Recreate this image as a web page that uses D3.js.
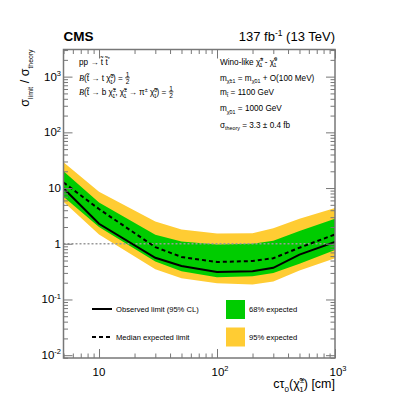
<!DOCTYPE html>
<html>
<head>
<meta charset="utf-8">
<script src="https://cdn.jsdelivr.net/npm/d3@7"></script>
<style>
body { margin: 0; background: #fff; }
text { font-family: "Liberation Sans", Arial, sans-serif; fill: #000; }
</style>
</head>
<body>
<div id="chart"></div>
<script>
// lifetime points (cm) and limits on sigma/sigma_theory
var ctau = [5, 10, 30, 50, 100, 200, 300, 500, 1000];
var observed = [9.9, 2.28, 0.56, 0.40, 0.31, 0.32, 0.37, 0.64, 1.08];
var expected = [12.6, 4.2, 0.87, 0.58, 0.47, 0.49, 0.55, 0.85, 1.47];
var exp68Up = [20, 5.5, 1.45, 1.1, 0.97, 1.0, 1.13, 1.7, 2.8];
var exp68Down = [7, 2.0, 0.48, 0.32, 0.25, 0.26, 0.30, 0.44, 0.77];
var exp95Up = [29, 8.6, 2.5, 1.8, 1.53, 1.55, 1.9, 2.8, 4.4];
var exp95Down = [5.7, 1.47, 0.35, 0.24, 0.195, 0.185, 0.21, 0.33, 0.55];

var xMajor = [10, 100, 1000];
var xTickLabels = [["10", ""], ["10", "2"], ["10", "3"]];
var yMajor = [0.01, 0.1, 1, 10, 100, 1000];
var yTickLabels = [["10", "-2"], ["10", "-1"], ["1", ""], ["10", ""], ["10", "2"], ["10", "3"]];

var width = 399, height = 399;
var frame = {left: 63.5, right: 335, top: 49.5, bottom: 358};
var axisColor = "#777";

var x = d3.scaleLog().domain([5, 1000]).range([frame.left, frame.right]);
var y = d3.scaleLog().domain([0.0089, 3070]).range([frame.bottom, frame.top]);

var svg = d3.select("#chart").append("svg")
    .attr("width", width)
    .attr("height", height);

svg.append("defs").append("clipPath").attr("id", "plotClip")
    .append("rect")
    .attr("x", frame.left).attr("y", frame.top)
    .attr("width", frame.right - frame.left)
    .attr("height", frame.bottom - frame.top);

// rich text: parts are {t, m: "sub"/"sup", dx, it}
function richText(g, xPos, yPos, parts, size, subScale) {
    subScale = subScale || 0.65;
    var t = g.append("text").attr("x", xPos).attr("y", yPos).style("font-size", size + "px");
    var shift = 0;
    parts.forEach(function(p) {
        var s = t.append("tspan").text(p.t);
        var target = p.m == "sub" ? size * 0.32 : p.m == "sup" ? -size * 0.42 : 0;
        s.attr("dy", target - shift);
        shift = target;
        if (p.m) s.style("font-size", (size * subScale) + "px");
        if (p.dx) s.attr("dx", p.dx);
        if (p.it) s.style("font-style", "italic").style("font-family", "'Liberation Serif', serif");
    });
    return t;
}

function fraction(g, xPos, yPos, size) {
    g.append("text").attr("x", xPos).attr("y", yPos - 4.3).attr("text-anchor", "middle")
        .style("font-size", size + "px").text("1");
    g.append("line").attr("x1", xPos - 2.3).attr("x2", xPos + 2.3)
        .attr("y1", yPos - 3.2).attr("y2", yPos - 3.2).attr("stroke", "#000").attr("stroke-width", 0.7);
    g.append("text").attr("x", xPos).attr("y", yPos + 3.2).attr("text-anchor", "middle")
        .style("font-size", size + "px").text("2");
}

function rightEdge(t) {
    var b = t.node().getBBox();
    return b.x + b.width;
}

// bands
var rows = ctau.map(function(c, i) {
    return {c: c, obs: observed[i], exp: expected[i],
        u68: exp68Up[i], d68: exp68Down[i], u95: exp95Up[i], d95: exp95Down[i]};
});

var plot = svg.append("g").attr("clip-path", "url(#plotClip)");

var band = function(lo, hi) {
    return d3.area()
        .x(function(d) { return x(d.c); })
        .y0(function(d) { return y(d[lo]); })
        .y1(function(d) { return y(d[hi]); });
};

plot.append("path").datum(rows).attr("d", band("d95", "u95")).attr("fill", "#ffcc33");
plot.append("path").datum(rows).attr("d", band("d68", "u68")).attr("fill", "#00cc00");

plot.append("line")
    .attr("x1", frame.left).attr("x2", frame.right)
    .attr("y1", y(1)).attr("y2", y(1))
    .attr("stroke", "#999").attr("stroke-width", 1.5)
    .attr("stroke-dasharray", "2,2");

var lineGen = function(key) {
    return d3.line().x(function(d) { return x(d.c); }).y(function(d) { return y(d[key]); });
};

plot.append("path").datum(rows).attr("d", lineGen("exp"))
    .attr("fill", "none").attr("stroke", "#000").attr("stroke-width", 2)
    .attr("stroke-dasharray", "4,3");
plot.append("path").datum(rows).attr("d", lineGen("obs"))
    .attr("fill", "none").attr("stroke", "#000").attr("stroke-width", 2);

// axes, ticks inside the frame
var xMinor = x.ticks().filter(function(v) { return xMajor.indexOf(v) < 0; });
var yMinor = y.ticks().filter(function(v) { return yMajor.indexOf(v) < 0 && v >= 0.0089; });

function drawAxis(axisFn, scale, vals, size, tr) {
    var a = svg.append("g").attr("transform", tr)
        .call(axisFn(scale).tickValues(vals).tickSize(size).tickSizeOuter(0).tickFormat(""));
    a.selectAll("line").attr("stroke", axisColor).attr("stroke-width", 1);
    a.select(".domain").remove();
}

drawAxis(d3.axisBottom, x, xMajor, -9, "translate(0," + frame.bottom + ")");
drawAxis(d3.axisBottom, x, xMinor, -4.5, "translate(0," + frame.bottom + ")");
drawAxis(d3.axisTop, x, xMajor, -9, "translate(0," + frame.top + ")");
drawAxis(d3.axisTop, x, xMinor, -4.5, "translate(0," + frame.top + ")");
drawAxis(d3.axisLeft, y, yMajor, -9, "translate(" + frame.left + ",0)");
drawAxis(d3.axisLeft, y, yMinor, -4.5, "translate(" + frame.left + ",0)");
drawAxis(d3.axisRight, y, yMajor, -9, "translate(" + frame.right + ",0)");
drawAxis(d3.axisRight, y, yMinor, -4.5, "translate(" + frame.right + ",0)");

svg.append("rect")
    .attr("x", frame.left).attr("y", frame.top)
    .attr("width", frame.right - frame.left)
    .attr("height", frame.bottom - frame.top)
    .attr("fill", "none").attr("stroke", axisColor).attr("stroke-width", 1.5);

// tick labels
xMajor.forEach(function(v, i) {
    var t = richText(svg, x(v), 375.5, [{t: xTickLabels[i][0]}, {t: xTickLabels[i][1], m: "sup"}], 11.5);
    t.attr("text-anchor", "middle");
    if (xTickLabels[i][1]) t.attr("x", x(v) + 3);
});
yMajor.forEach(function(v, i) {
    var t = richText(svg, frame.left - 2.5, y(v) + 4, [{t: yTickLabels[i][0]}, {t: yTickLabels[i][1], m: "sup"}], 11.5);
    t.attr("text-anchor", "end");
});

// axis titles
var yTitle = svg.append("g").attr("transform", "translate(29," + frame.top + ") rotate(-90)");
richText(yTitle, 0, 0, [{t: "σ"}, {t: "limit", m: "sub"}, {t: " / σ"}, {t: "theory", m: "sub"}], 12.5, 0.55)
    .attr("text-anchor", "end");

richText(svg, frame.right, 388, [{t: "cτ"}, {t: "0", m: "sub"}, {t: "(χ̃"}, {t: "±", m: "sup"},
    {t: "1", m: "sub", dx: -5}, {t: ") [cm]"}], 12.5)
    .attr("text-anchor", "end");

// header
svg.append("text").attr("x", frame.left).attr("y", 41)
    .style("font-size", "13.5px").style("font-weight", "bold").text("CMS");
richText(svg, frame.right, 41, [{t: "137 fb"}, {t: "-1", m: "sup"}, {t: " (13 TeV)"}], 13)
    .attr("text-anchor", "end");

// annotations left
var fs = 8.2;
richText(svg, 79, 64.5, [{t: "pp → t̃ t̃"}, {t: "*", m: "sup"}], fs);
var b1 = richText(svg, 79, 81, [{t: "B", it: true}, {t: "(t̃ → t χ̃"}, {t: "0", m: "sup"},
    {t: "1", m: "sub", dx: -3.6}, {t: ") ="}], fs);
fraction(svg, rightEdge(b1) + 4.5, 81, 6.5);
var b2 = richText(svg, 79, 95, [{t: "B", it: true}, {t: "(t̃ → b χ̃"}, {t: "±", m: "sup"},
    {t: "1", m: "sub", dx: -3.6}, {t: ", χ̃"}, {t: "±", m: "sup"}, {t: "1", m: "sub", dx: -3.6},
    {t: " → π"}, {t: "±", m: "sup"}, {t: " χ̃"}, {t: "0", m: "sup"}, {t: "1", m: "sub", dx: -3.6},
    {t: ") ="}], fs);
fraction(svg, rightEdge(b2) + 4.5, 95, 6.5);

// annotations right
var ax = 220;
richText(svg, ax, 64.5, [{t: "Wino-like χ̃"}, {t: "±", m: "sup"}, {t: "1", m: "sub", dx: -3.6},
    {t: " - χ̃"}, {t: "0", m: "sup"}, {t: "1", m: "sub", dx: -3.6}], fs);
richText(svg, ax, 80.5, [{t: "m"}, {t: "χ̃±1", m: "sub"}, {t: " = m"}, {t: "χ̃01", m: "sub"},
    {t: " + O(100 MeV)"}], fs);
richText(svg, ax, 94.5, [{t: "m"}, {t: "t̃", m: "sub"}, {t: " = 1100 GeV"}], fs);
richText(svg, ax, 111, [{t: "m"}, {t: "χ̃01", m: "sub"}, {t: " = 1000 GeV"}], fs);
richText(svg, ax, 127.5, [{t: "σ"}, {t: "theory", m: "sub"}, {t: " = 3.3 ± 0.4 fb"}], fs);

// legend
var lfs = 7.6;
var leg = svg.append("g");
leg.append("line").attr("x1", 92).attr("x2", 112).attr("y1", 309).attr("y2", 309)
    .attr("stroke", "#000").attr("stroke-width", 2);
leg.append("text").attr("x", 116).attr("y", 311.8).style("font-size", lfs + "px").text("Observed limit (95% CL)");
leg.append("line").attr("x1", 92).attr("x2", 112).attr("y1", 337).attr("y2", 337)
    .attr("stroke", "#000").attr("stroke-width", 2).attr("stroke-dasharray", "4,3");
leg.append("text").attr("x", 116).attr("y", 339.8).style("font-size", lfs + "px").text("Median expected limit");
leg.append("rect").attr("x", 226).attr("y", 300).attr("width", 19).attr("height", 19).attr("fill", "#00cc00");
leg.append("text").attr("x", 249).attr("y", 311.8).style("font-size", lfs + "px").text("68% expected");
leg.append("rect").attr("x", 226).attr("y", 327.5).attr("width", 19).attr("height", 19).attr("fill", "#ffcc33");
leg.append("text").attr("x", 249).attr("y", 339.8).style("font-size", lfs + "px").text("95% expected");
</script>
</body>
</html>
